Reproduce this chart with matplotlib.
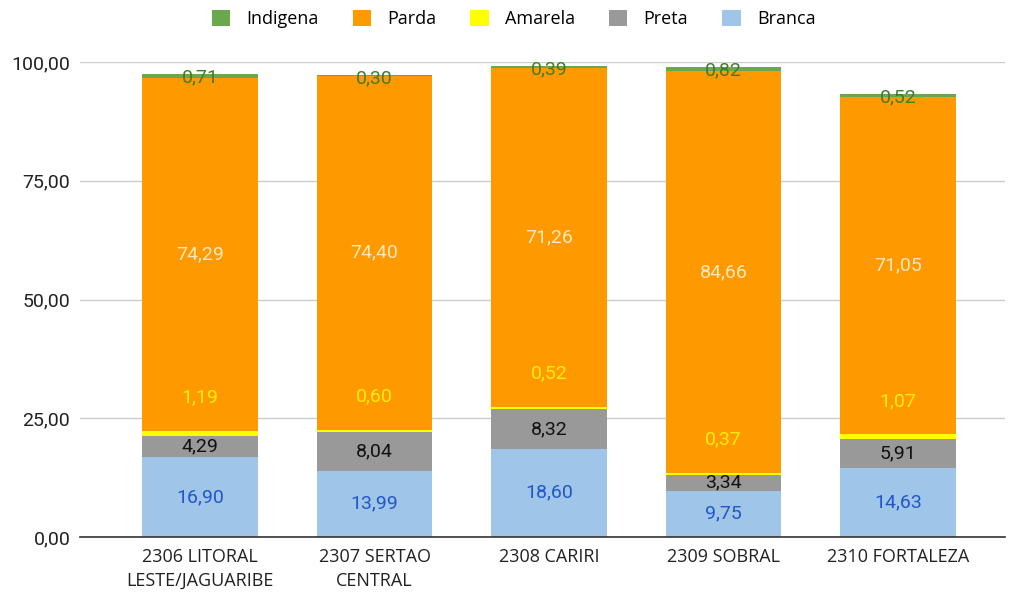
import matplotlib.pyplot as plt
import numpy as np

regioes = ["2306 LITORAL\nLESTE/JAGUARIBE", "2307 SERTAO\nCENTRAL", "2308 CARIRI",
           "2309 SOBRAL", "2310 FORTALEZA"]

branca = [16.90, 13.99, 18.60, 9.75, 14.63]
preta = [4.29, 8.04, 8.32, 3.34, 5.91]
amarela = [1.19, 0.60, 0.52, 0.37, 1.07]
parda = [74.29, 74.40, 71.26, 84.66, 71.05]
indigena = [0.71, 0.30, 0.39, 0.82, 0.52]

yticks = [0, 25, 50, 75, 100]

def fmt(v):
    return f"{v:.2f}".replace('.', ',')

fig = plt.figure(figsize=(10.09, 5.94), dpi=100)
ax = fig.add_axes([80/1009, 57/594, 925/1009, 475/594])

x = np.arange(len(regioes))
w = 0.66

series = [
    ("Branca", branca, '#9fc5e8', '#2456c8'),
    ("Preta", preta, '#999999', '#111111'),
    ("Amarela", amarela, '#ffff00', '#ffee00'),
    ("Parda", parda, '#ff9900', '#ffe8c0'),
    ("Indigena", indigena, '#6aa84f', '#3f7d2a'),
]

bottom = np.zeros(len(regioes))
handles = {}
for name, vals, col, tcol in series:
    vals = np.array(vals)
    b = ax.bar(x, vals, w, bottom=bottom, color=col, label=name, zorder=2)
    handles[name] = b
    for i, v in enumerate(vals):
        if name == "Amarela":
            ypos = bottom[i] + v + 7
        elif name == "Indigena":
            ypos = bottom[i] + v - 0.7
        else:
            ypos = bottom[i] + v / 2
        ax.text(x[i], ypos, fmt(v), ha='center', va='center', color=tcol,
                fontsize=14, family='Roboto', zorder=3)
    bottom = bottom + vals

ax.set_xlim(-0.688, 4.613)
ax.set_ylim(0, 100)
ax.set_yticks(yticks)
ax.set_yticklabels([fmt(t) for t in yticks], family='Roboto', fontsize=14, color='#222222')
ax.set_xticks(x)
ax.set_xticklabels(regioes, family='Open Sans', fontsize=13, color='#222222', linespacing=1.4)
ax.tick_params(length=0, pad=8)
ax.tick_params(axis='y', pad=7)
ax.grid(axis='y', color='#cccccc', lw=1, zorder=0)
for s in ['top', 'right', 'left']:
    ax.spines[s].set_visible(False)
ax.spines['bottom'].set_color('#333333')
ax.spines['bottom'].set_linewidth(1.2)
ax.spines['bottom'].set_zorder(4)

order = ["Indigena", "Parda", "Amarela", "Preta", "Branca"]
fig.legend([handles[n] for n in order], order, loc='center', bbox_to_anchor=(0.509, 0.968),
           ncol=5, frameon=False, prop={'family': 'Open Sans', 'size': 13},
           handlelength=1.0, handleheight=1.0, columnspacing=1.9, handletextpad=0.9)

plt.savefig("out.png", dpi=100)
